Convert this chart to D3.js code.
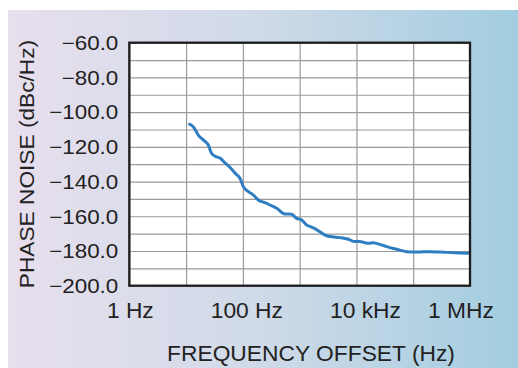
<!DOCTYPE html>
<html>
<head>
<meta charset="utf-8">
<script src="https://cdn.jsdelivr.net/npm/d3@7"></script>
<style>
  html, body { margin: 0; padding: 0; background: #fff; }
  svg { display: block; font-family: "Liberation Sans", Arial, Helvetica, sans-serif; }
  .grid line { stroke: #9a9a9a; stroke-width: 1.2; }
  .grid path { display: none; }
  .lbl { fill: #222; }
</style>
</head>
<body>
<div id="chart"></div>
<script>
// phase noise readings
const freqHz = [11, 13.4, 16.4, 20, 24.6, 28, 32, 40, 48, 59, 73, 89, 102, 125, 152, 187, 245, 300,
  394, 551, 723, 885, 1080, 1330, 1630, 2130, 2790, 3410, 5120, 7180, 9410, 11500, 13200, 16800,
  19800, 22600, 34000, 51000, 76500, 115000, 197000, 387000, 664000, 980000]
const noiseDbc = [-106.8, -108.4, -113.2, -116.0, -118.9, -123.7, -125.3, -126.6, -129.1, -131.8,
  -135.2, -138.1, -142.9, -145.8, -147.7, -150.6, -152.2, -153.5, -155.4, -158.7, -158.8, -161.2,
  -162.1, -165.0, -166.3, -168.3, -170.8, -171.7, -172.3, -173.2, -174.6, -174.6, -175.0, -175.6,
  -175.2, -175.6, -177.5, -179.0, -180.4, -180.6, -180.4, -180.8, -181.1, -181.3]

const yTicks = [-60, -80, -100, -120, -140, -160, -180, -200]
const xTickValues = [1, 100, 1e4, 1e6]
const xTickLabels = ['1 Hz', '100 Hz', '10 kHz', '1 MHz']
const decades = [1, 10, 100, 1e3, 1e4, 1e5, 1e6]

const W = 518, H = 368
const m = { left: 129.3, top: 42.7 }
const w = 340.7, h = 243

const svg = d3.select('#chart').append('svg')
  .attr('width', W)
  .attr('height', H)

// background panel
const grad = svg.append('defs').append('linearGradient')
  .attr('id', 'bg').attr('x1', 0).attr('x2', 1).attr('y1', 0).attr('y2', 0)
grad.append('stop').attr('offset', 0).attr('stop-color', '#e8dfed')
grad.append('stop').attr('offset', 0.5).attr('stop-color', '#cfdae8')
grad.append('stop').attr('offset', 1).attr('stop-color', '#a2cde0')

svg.append('rect')
  .attr('x', 8).attr('y', 10)
  .attr('width', W - 8).attr('height', H - 10)
  .attr('fill', 'url(#bg)')

const x = d3.scaleLog().domain([1, 1e6]).range([0, w])
const y = d3.scaleLinear().domain([-200, -60]).range([h, 0])

const g = svg.append('g').attr('transform', `translate(${m.left},${m.top})`)

g.append('rect').attr('width', w).attr('height', h).attr('fill', '#fff')

// grid
g.append('g').attr('class', 'grid')
  .attr('transform', `translate(0,${h})`)
  .call(d3.axisBottom(x).tickValues(decades).tickSize(-h).tickFormat(''))

g.append('g').attr('class', 'grid')
  .call(d3.axisLeft(y).tickValues(d3.range(-200, -59, 10)).tickSize(-w).tickFormat(''))

// data line
const pts = freqHz.map((f, i) => [f, noiseDbc[i]])
g.append('path')
  .datum(pts)
  .attr('fill', 'none')
  .attr('stroke', '#2f7ec2')
  .attr('stroke-width', 3)
  .attr('stroke-linejoin', 'round')
  .attr('d', d3.line().x(d => x(d[0])).y(d => y(d[1])).curve(d3.curveMonotoneX))

// frame
g.append('rect')
  .attr('width', w).attr('height', h)
  .attr('fill', 'none')
  .attr('stroke', '#1e1e1e')
  .attr('stroke-width', 2.3)

// widen text a little, the original type is set loose
function stretch(sel, k) {
  sel.each(function () {
    const len = this.getComputedTextLength()
    d3.select(this).attr('textLength', len * k).attr('lengthAdjust', 'spacingAndGlyphs')
  })
}

// y tick labels
g.selectAll('.ylab')
  .data(yTicks)
  .join('text')
  .attr('class', 'lbl ylab')
  .attr('x', -11)
  .attr('y', d => y(d) + 7.3)
  .attr('text-anchor', 'end')
  .attr('font-size', 20)
  .text(d => d3.format('.1f')(d).replace('-', '\u2212'))
  .call(stretch, 1.12)

// x tick labels
const xNudge = [1, 4, 9, -9]
g.selectAll('.xlab')
  .data(xTickValues)
  .join('text')
  .attr('class', 'lbl xlab')
  .attr('x', (d, i) => x(d) + xNudge[i])
  .attr('y', h + 32)
  .attr('text-anchor', 'middle')
  .attr('font-size', 21.5)
  .text((d, i) => xTickLabels[i])
  .call(stretch, 1.06)

// axis titles
svg.append('text')
  .attr('class', 'lbl')
  .attr('x', 311)
  .attr('y', 360.5)
  .attr('text-anchor', 'middle')
  .attr('font-size', 21.5)
  .text('FREQUENCY OFFSET (Hz)')
  .call(stretch, 1.06)

svg.append('text')
  .attr('class', 'lbl')
  .attr('transform', 'translate(33.5,164) rotate(-90)')
  .attr('text-anchor', 'middle')
  .attr('font-size', 21)
  .text('PHASE NOISE (dBc/Hz)')
  .call(stretch, 1.08)
</script>
</body>
</html>
